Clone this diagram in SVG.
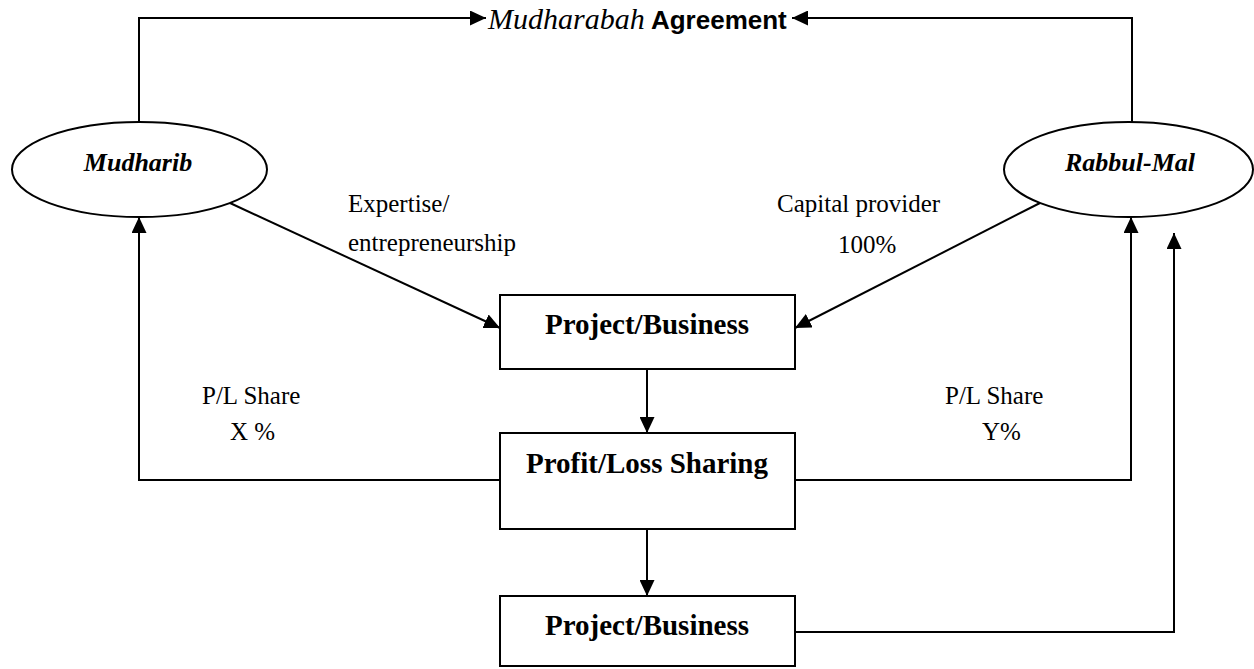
<svg xmlns="http://www.w3.org/2000/svg" width="1254" height="669" viewBox="0 0 1254 669">
<defs>
<style>
.line{fill:none;stroke:#000;stroke-width:2}
.node{fill:#fff;stroke:#000;stroke-width:2}
.box{font-family:"Liberation Serif",serif;font-weight:bold;font-size:29px;text-anchor:middle}
.ell{font-family:"Liberation Serif",serif;font-weight:bold;font-style:italic;font-size:26px;text-anchor:middle}
.lbl{font-family:"Liberation Serif",serif;font-size:25px}
</style>
<marker id="ah" markerWidth="16" markerHeight="15" refX="16" refY="7.5" orient="auto" markerUnits="userSpaceOnUse">
<path d="M0,0 L16,7.5 L0,15 z" fill="#000"/>
</marker>
</defs>
<rect width="1254" height="669" fill="#fff"/>
<g id="connectors">
<path class="line" d="M139,122 V18 H486" marker-end="url(#ah)"/>
<path class="line" d="M1132,122 V18 H792" marker-end="url(#ah)"/>
<path class="line" d="M230,203 L500,328" marker-end="url(#ah)"/>
<path class="line" d="M1040,203 L795,328" marker-end="url(#ah)"/>
<path class="line" d="M647,369 V433" marker-end="url(#ah)"/>
<path class="line" d="M647,529 V596" marker-end="url(#ah)"/>
<path class="line" d="M500,480 H139 V217" marker-end="url(#ah)"/>
<path class="line" d="M795,480 H1131 V217" marker-end="url(#ah)"/>
<path class="line" d="M795,632 H1174 V233" marker-end="url(#ah)"/>
</g>
<g id="title">
<text x="488" y="29"><tspan font-family="Liberation Serif,serif" font-style="italic" font-size="30">Mudharabah</tspan><tspan font-family="Liberation Sans,sans-serif" font-weight="bold" font-size="26"> Agreement</tspan></text>
</g>
<g id="mudharib">
<ellipse class="node" cx="139.5" cy="169.5" rx="127.5" ry="47.5"/>
<text class="ell" x="138" y="171">Mudharib</text>
</g>
<g id="rabbul-mal">
<ellipse class="node" cx="1128.5" cy="169.5" rx="124.5" ry="47.5"/>
<text class="ell" x="1130" y="171">Rabbul-Mal</text>
</g>
<g id="project1">
<rect class="node" x="500" y="295" width="295" height="74"/>
<text class="box" x="647" y="334">Project/Business</text>
</g>
<g id="pls">
<rect class="node" x="500" y="433" width="295" height="96"/>
<text class="box" x="647" y="473">Profit/Loss Sharing</text>
</g>
<g id="project2">
<rect class="node" x="500" y="596" width="295" height="70"/>
<text class="box" x="647" y="635">Project/Business</text>
</g>
<g id="labels">
<text class="lbl" x="348" y="212">Expertise/</text>
<text class="lbl" x="348" y="251">entrepreneurship</text>
<text class="lbl" x="777" y="212">Capital provider</text>
<text class="lbl" x="838" y="253" font-size="27">100%</text>
<text class="lbl" x="202" y="404">P/L Share</text>
<text class="lbl" x="230" y="440">X %</text>
<text class="lbl" x="945" y="404">P/L Share</text>
<text class="lbl" x="982" y="440">Y%</text>
</g>
</svg>
